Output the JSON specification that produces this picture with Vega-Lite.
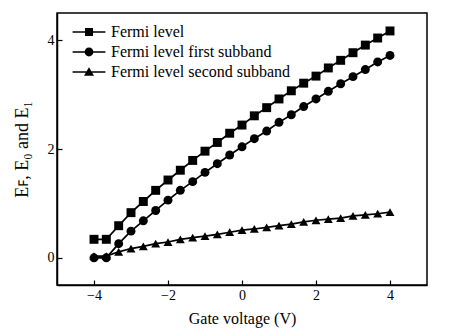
{
  "$schema": "https://vega.github.io/schema/vega-lite/v6.json",
  "width": 370,
  "height": 272,
  "autosize": "none",
  "padding": {"left": 57, "top": 13, "right": 28, "bottom": 51},
  "background": "white",
  "config": {
    "font": "Liberation Serif",
    "view": {"stroke": "black", "strokeWidth": 1.5},
    "axis": {
      "domainColor": "black", "domainWidth": 1.5,
      "tickColor": "black", "tickWidth": 1.2, "tickSize": -5,
      "labelColor": "black", "labelFont": "Liberation Serif", "labelFontSize": 14,
      "titleColor": "black", "titleFont": "Liberation Serif", "titleFontSize": 15, "titleFontWeight": "normal",
      "grid": false
    }
  },
  "resolve": {"scale": {"shape": "independent"}},
  "data": {
    "values": [
      {"v": -4, "e": 0.34, "s": "Fermi level"},
      {"v": -3.667, "e": 0.34, "s": "Fermi level"},
      {"v": -3.333, "e": 0.59, "s": "Fermi level"},
      {"v": -3, "e": 0.83, "s": "Fermi level"},
      {"v": -2.667, "e": 1.035, "s": "Fermi level"},
      {"v": -2.333, "e": 1.24, "s": "Fermi level"},
      {"v": -2, "e": 1.43, "s": "Fermi level"},
      {"v": -1.667, "e": 1.61, "s": "Fermi level"},
      {"v": -1.333, "e": 1.79, "s": "Fermi level"},
      {"v": -1, "e": 1.96, "s": "Fermi level"},
      {"v": -0.667, "e": 2.12, "s": "Fermi level"},
      {"v": -0.333, "e": 2.29, "s": "Fermi level"},
      {"v": 0, "e": 2.44, "s": "Fermi level"},
      {"v": 0.333, "e": 2.61, "s": "Fermi level"},
      {"v": 0.667, "e": 2.76, "s": "Fermi level"},
      {"v": 1, "e": 2.92, "s": "Fermi level"},
      {"v": 1.333, "e": 3.07, "s": "Fermi level"},
      {"v": 1.667, "e": 3.21, "s": "Fermi level"},
      {"v": 2, "e": 3.34, "s": "Fermi level"},
      {"v": 2.333, "e": 3.49, "s": "Fermi level"},
      {"v": 2.667, "e": 3.63, "s": "Fermi level"},
      {"v": 3, "e": 3.77, "s": "Fermi level"},
      {"v": 3.333, "e": 3.91, "s": "Fermi level"},
      {"v": 3.667, "e": 4.04, "s": "Fermi level"},
      {"v": 4, "e": 4.17, "s": "Fermi level"},
      {"v": -4, "e": 0.0, "s": "Fermi level first subband"},
      {"v": -3.667, "e": 0.0, "s": "Fermi level first subband"},
      {"v": -3.333, "e": 0.26, "s": "Fermi level first subband"},
      {"v": -3, "e": 0.49, "s": "Fermi level first subband"},
      {"v": -2.667, "e": 0.68, "s": "Fermi level first subband"},
      {"v": -2.333, "e": 0.87, "s": "Fermi level first subband"},
      {"v": -2, "e": 1.06, "s": "Fermi level first subband"},
      {"v": -1.667, "e": 1.24, "s": "Fermi level first subband"},
      {"v": -1.333, "e": 1.40, "s": "Fermi level first subband"},
      {"v": -1, "e": 1.57, "s": "Fermi level first subband"},
      {"v": -0.667, "e": 1.73, "s": "Fermi level first subband"},
      {"v": -0.333, "e": 1.89, "s": "Fermi level first subband"},
      {"v": 0, "e": 2.04, "s": "Fermi level first subband"},
      {"v": 0.333, "e": 2.19, "s": "Fermi level first subband"},
      {"v": 0.667, "e": 2.33, "s": "Fermi level first subband"},
      {"v": 1, "e": 2.49, "s": "Fermi level first subband"},
      {"v": 1.333, "e": 2.63, "s": "Fermi level first subband"},
      {"v": 1.667, "e": 2.78, "s": "Fermi level first subband"},
      {"v": 2, "e": 2.92, "s": "Fermi level first subband"},
      {"v": 2.333, "e": 3.06, "s": "Fermi level first subband"},
      {"v": 2.667, "e": 3.20, "s": "Fermi level first subband"},
      {"v": 3, "e": 3.33, "s": "Fermi level first subband"},
      {"v": 3.333, "e": 3.46, "s": "Fermi level first subband"},
      {"v": 3.667, "e": 3.60, "s": "Fermi level first subband"},
      {"v": 4, "e": 3.72, "s": "Fermi level first subband"},
      {"v": -4, "e": 0.03, "s": "Fermi level second subband"},
      {"v": -3.667, "e": 0.03, "s": "Fermi level second subband"},
      {"v": -3.333, "e": 0.11, "s": "Fermi level second subband"},
      {"v": -3, "e": 0.17, "s": "Fermi level second subband"},
      {"v": -2.667, "e": 0.21, "s": "Fermi level second subband"},
      {"v": -2.333, "e": 0.26, "s": "Fermi level second subband"},
      {"v": -2, "e": 0.29, "s": "Fermi level second subband"},
      {"v": -1.667, "e": 0.34, "s": "Fermi level second subband"},
      {"v": -1.333, "e": 0.37, "s": "Fermi level second subband"},
      {"v": -1, "e": 0.40, "s": "Fermi level second subband"},
      {"v": -0.667, "e": 0.43, "s": "Fermi level second subband"},
      {"v": -0.333, "e": 0.47, "s": "Fermi level second subband"},
      {"v": 0, "e": 0.51, "s": "Fermi level second subband"},
      {"v": 0.333, "e": 0.53, "s": "Fermi level second subband"},
      {"v": 0.667, "e": 0.56, "s": "Fermi level second subband"},
      {"v": 1, "e": 0.59, "s": "Fermi level second subband"},
      {"v": 1.333, "e": 0.62, "s": "Fermi level second subband"},
      {"v": 1.667, "e": 0.66, "s": "Fermi level second subband"},
      {"v": 2, "e": 0.69, "s": "Fermi level second subband"},
      {"v": 2.333, "e": 0.71, "s": "Fermi level second subband"},
      {"v": 2.667, "e": 0.73, "s": "Fermi level second subband"},
      {"v": 3, "e": 0.77, "s": "Fermi level second subband"},
      {"v": 3.333, "e": 0.79, "s": "Fermi level second subband"},
      {"v": 3.667, "e": 0.81, "s": "Fermi level second subband"},
      {"v": 4, "e": 0.84, "s": "Fermi level second subband"}
    ]
  },
  "encoding": {
    "x": {
      "field": "v", "type": "quantitative",
      "scale": {"domain": [-5, 5], "nice": false, "zero": false},
      "axis": {"values": [-4, -2, 0, 2, 4], "title": "Gate voltage (V)", "labelPadding": 8, "titlePadding": 8, "titleFontSize": 16}
    },
    "y": {
      "field": "e", "type": "quantitative",
      "scale": {"domain": [-0.5, 4.5], "nice": false, "zero": false},
      "axis": {"values": [0, 2, 4], "title": "Eꜰ, E₀ and E₁", "labelPadding": 8, "titlePadding": 16, "titleFontSize": 18}
    }
  },
  "layer": [
    {
      "mark": {"type": "line", "color": "black", "strokeWidth": 1.7},
      "encoding": {"detail": {"field": "s"}}
    },
    {
      "mark": {"type": "point", "filled": true, "color": "black", "opacity": 1, "size": 80},
      "encoding": {
        "shape": {
          "field": "s", "type": "nominal",
          "scale": {
            "domain": ["Fermi level", "Fermi level first subband", "Fermi level second subband"],
            "range": ["square", "circle", "triangle-up"]
          },
          "legend": null
        }
      }
    },
    {
      "mark": {"type": "point", "filled": true, "color": "black", "opacity": 0, "size": 64},
      "encoding": {
        "shape": {
          "field": "s", "type": "nominal",
          "scale": {
            "domain": ["Fermi level", "Fermi level first subband", "Fermi level second subband"],
            "range": [
              "M-4.1,-0.19H4.1V0.19H-4.1ZM-1,-1H1V1H-1Z",
              "M-4.1,-0.19H4.1V0.19H-4.1ZM-1.1,0A1.1,1.1 0 1,1 1.1,0A1.1,1.1 0 1,1 -1.1,0Z",
              "M-4.1,-0.19H4.1V0.19H-4.1ZM0,-1.2L1.25,0.95H-1.25Z"
            ]
          },
          "legend": {
            "title": null,
            "orient": "none",
            "legendX": 24,
            "legendY": 11,
            "padding": 0,
            "symbolSize": 64,
            "symbolOpacity": 1,
            "symbolFillColor": "black",
            "rowPadding": 4,
            "labelOffset": 14,
            "labelFont": "Liberation Serif",
            "labelFontSize": 16,
            "labelColor": "black",
            "labelLimit": 400
          }
        }
      }
    }
  ]
}
